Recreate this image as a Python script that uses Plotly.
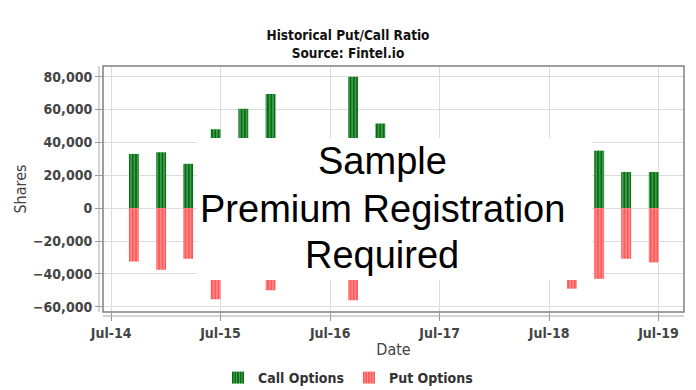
import plotly.graph_objects as go

# Quarterly option-expiry dates (visible bars)
dates = ["2014-09-15", "2014-12-15", "2015-03-15", "2015-06-15", "2015-09-15",
         "2015-12-15", "2016-09-15", "2016-12-15", "2018-09-15", "2018-12-15",
         "2019-03-15", "2019-06-15"]
call_options = [33000, 34000, 27000, 48000, 60500, 69500, 80000, 51500, 20000, 35000, 22000, 22000]
put_options = [-32500, -37500, -30800, -55500, -25000, -50000, -56000, -25000, -49000, -43000, -30800, -33000]

tick_vals = ["2014-07-01", "2015-07-01", "2016-07-01", "2017-07-01", "2018-07-01", "2019-07-01"]
tick_text = ["Jul-14", "Jul-15", "Jul-16", "Jul-17", "Jul-18", "Jul-19"]
y_ticks = [-60000, -40000, -20000, 0, 20000, 40000, 60000, 80000]

GREEN = "#02700f"
RED = "#ff5a5a"
bar_width = 33 * 86400000

fig = go.Figure()
fig.add_trace(go.Bar(
    x=dates, y=call_options, name="Call Options", width=bar_width,
    marker=dict(color=GREEN, line=dict(width=0),
                pattern=dict(shape="|", fgcolor="rgba(255,255,255,0.9)", bgcolor=GREEN,
                             size=3.3, solidity=0.3)),
))
fig.add_trace(go.Bar(
    x=dates, y=put_options, name="Put Options", width=bar_width,
    marker=dict(color=RED, line=dict(width=0),
                pattern=dict(shape="|", fgcolor="rgba(255,255,255,0.9)", bgcolor=RED,
                             size=3.3, solidity=0.3)),
))

FONT = "DejaVu Sans Condensed, DejaVu Sans"
tick_font = dict(family=FONT, size=14, color="#444444", weight="bold")

fig.update_layout(
    width=696, height=390,
    margin=dict(l=103, r=12, t=66, b=78, autoexpand=False),
    barmode="relative",
    paper_bgcolor="white", plot_bgcolor="white",
    title=dict(text="<b>Historical Put/Call Ratio<br>Source: Fintel.io</b>",
               font=dict(family=FONT, size=13.5, color="#111111"),
               x=0.5, xanchor="center", xref="container",
               y=1 - 40 / 390, yanchor="middle", yref="container", automargin=False),
    showlegend=True,
    legend=dict(orientation="h", x=0.5, xanchor="center", xref="container",
                y=1 - 362 / 390, yanchor="top", yref="container",
                font=dict(family=FONT, size=14, color="#333333", weight="bold"),
                itemwidth=30, tracegroupgap=0, traceorder="normal"),
    xaxis=dict(type="date", range=["2014-06-04", "2019-09-24"],
               tickvals=tick_vals, ticktext=tick_text, automargin=False,
               showgrid=True, gridcolor="#dddddd", gridwidth=1,
               ticks="outside", ticklen=8, tickcolor="#999999",
               tickfont=tick_font, showline=False, zeroline=False,
               title=dict(text="Date", font=dict(family=FONT, size=16, color="#444444"),
                          standoff=4)),
    yaxis=dict(range=[-63200, 86500], tickvals=y_ticks, tickformat=",d", automargin=False,
               showgrid=True, gridcolor="#dddddd", gridwidth=1,
               ticks="outside", ticklen=7, tickcolor="#999999",
               tickfont=tick_font, showline=False, zeroline=False,
               title=dict(text="Shares", font=dict(family=FONT, size=16, color="#444444"),
                          standoff=2)),
    shapes=[
        # plot border
        dict(type="rect", xref="paper", yref="paper", x0=0, x1=1, y0=0, y1=1,
             line=dict(color="#808080", width=1.5), fillcolor="rgba(0,0,0,0)", layer="above"),
        # offset axis lines
        dict(type="line", xref="paper", yref="paper", x0=-4 / 581, x1=-4 / 581, y0=0, y1=1,
             line=dict(color="#aaaaaa", width=1)),
        dict(type="line", xref="paper", yref="paper", x0=0, x1=1, y0=-4 / 246, y1=-4 / 246,
             line=dict(color="#aaaaaa", width=1)),
        # registration overlay
        dict(type="rect", xref="paper", yref="paper",
             x0=(197 - 103) / 581, x1=(592 - 103) / 581,
             y0=(312 - 280) / 246, y1=(312 - 138) / 246,
             line=dict(width=0), fillcolor="white", layer="above"),
    ],
    annotations=[
        dict(text=t, xref="paper", yref="paper", x=(382 - 103) / 581, y=(312 - yc) / 246,
             xanchor="center", yanchor="middle", showarrow=False,
             font=dict(family="Liberation Sans, Arial", size=38, color="black"))
        for t, yc in [("Sample", 161), ("Premium Registration", 209), ("Required", 255)]
    ],
)

fig.write_html("out.html", config={"displayModeBar": False},
               post_script="document.body.style.margin='0';document.body.style.overflow='hidden';")
